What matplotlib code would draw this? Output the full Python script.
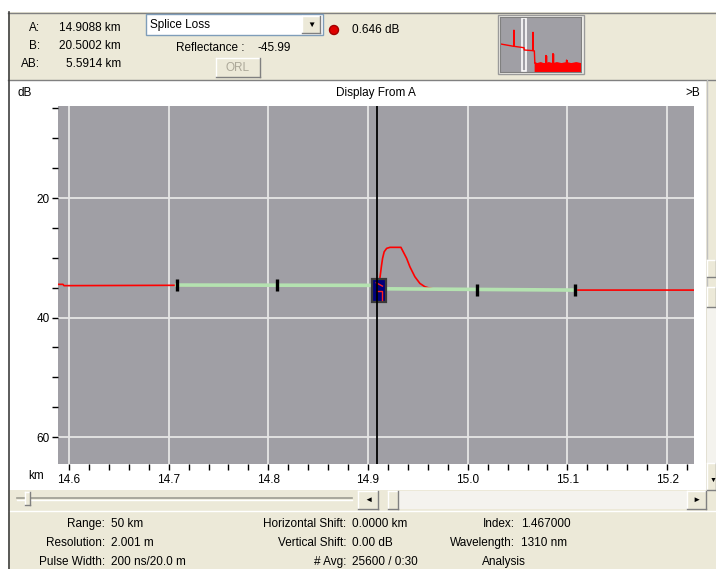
import matplotlib
matplotlib.use("Agg")
import matplotlib.pyplot as plt
from matplotlib.patches import Rectangle, Circle
from matplotlib.ticker import MultipleLocator, FixedLocator

plt.rcParams['font.family'] = ['Liberation Sans', 'DejaVu Sans']

# ---- trace data (km, dB) ----
trace_km = [14.589, 14.594, 14.595, 14.708, 14.905, 14.9119, 14.9136, 14.9146,
            14.9162, 14.9187, 14.9220, 14.9330, 14.9353, 14.9387, 14.9420,
            14.9470, 14.9520, 14.9571, 14.9604, 14.965, 15.108, 15.227]
trace_db = [34.44, 34.44, 34.66, 34.60, 34.61, 33.44, 31.21, 30.09,
            28.99, 28.42, 28.25, 28.25, 28.99, 30.09, 31.50,
            33.17, 34.28, 34.85, 35.01, 35.19, 35.40, 35.40]

# least-squares fit sections either side of the event
lsa1_km = [14.708, 14.905]
lsa1_db = [34.56, 34.61]
lsa2_km = [14.912, 15.108]
lsa2_db = [35.18, 35.40]
marker_km = [14.708, 14.809, 15.009, 15.108]
marker_db = [34.56, 34.58, 35.33, 35.40]

cursor_a = 14.9088
event_km = [14.904, 14.918]
event_db = [33.6, 37.4]

x_major = [14.6, 14.7, 14.8, 14.9, 15.0, 15.1, 15.2]
y_major = [20, 40, 60]

# overview trace in the thumbnail (km, dB)
thumb_km = [0.0, 0.0, 0.6, 8.5, 8.6, 8.7, 14.8, 15.0, 20.3, 20.4, 20.5, 21.2, 21.5]
thumb_db = [17, 29, 29.5, 32, 14.4, 32, 33.5, 36, 36.7, 16.7, 36.7, 37, 50]
noise_km = [21.5, 23, 25, 27, 28.3, 28.4, 28.5, 30, 32.6, 32.7, 32.8,
            35, 38, 41, 41.1, 41.2, 44, 47, 50]
noise_db = [50, 51, 50, 51, 51, 42, 51, 50, 51, 40, 51,
            50, 51, 50, 47, 50, 51, 50, 51]

# ---- panel texts ----
cursor_names = ["A:", "B:", "AB:"]
cursor_vals = ["14.9088 km", "20.5002 km", "5.5914 km"]
bottom_rows = [
    [("Range:", "50 km"), ("Horizontal Shift:", "0.0000 km"), ("Index:", "1.467000")],
    [("Resolution:", "2.001 m"), ("Vertical Shift:", "0.00 dB"), ("Wavelength:", "1310 nm")],
    [("Pulse Width:", "200 ns/20.0 m"), ("# Avg:", "25600 / 0:30"), ("", "")],
]

BEIGE = '#ECE9D8'
PLOTBG = '#A09FA5'
FS = 8.5

fig = plt.figure(figsize=(7.16, 5.69), dpi=100)
fig.patch.set_facecolor('white')

# pixel-space layer for the window chrome
ui = fig.add_axes([0, 0, 1, 1])
ui.set_xlim(0, 716)
ui.set_ylim(569, 0)
ui.axis('off')


def box(x0, y0, x1, y1, fc=BEIGE, ec='none', lw=1, z=1):
    ui.add_patch(Rectangle((x0, y0), x1 - x0, y1 - y0, fc=fc, ec=ec, lw=lw, zorder=z))


def button(x0, y0, x1, y1, z=3):
    box(x0, y0, x1, y1, z=z)
    ui.plot([x0, x1], [y0, y0], color='white', lw=1, zorder=z + 1)
    ui.plot([x0, x0], [y0, y1], color='white', lw=1, zorder=z + 1)
    ui.plot([x0, x1], [y1, y1], color='#808080', lw=1, zorder=z + 1)
    ui.plot([x1, x1], [y0, y1], color='#808080', lw=1, zorder=z + 1)


# top info panel
box(8, 12, 716, 80)
ui.plot([8, 716], [12.5, 12.5], color='#808080', lw=1, zorder=2)
ui.plot([8, 716], [79.5, 79.5], color='#808080', lw=1, zorder=2)
for i, (n, v) in enumerate(zip(cursor_names, cursor_vals)):
    y = 28 + i * 18
    ui.text(40, y, n, ha='right', va='center', fontsize=FS)
    ui.text(121, y, v, ha='right', va='center', fontsize=FS)

box(146, 14, 323, 35, fc='white', ec='#7F9DB9', z=2)
ui.text(150, 25, "Splice Loss", ha='left', va='center', fontsize=FS)
button(302, 16, 320, 33)
ui.text(311, 25, "▼", ha='center', va='center', fontsize=6, zorder=6)
ui.text(245, 48, "Reflectance :", ha='right', va='center', fontsize=FS)
ui.text(257, 48, "-45.99", ha='left', va='center', fontsize=FS)
button(216, 58, 260, 77)
ui.text(238, 67.5, "ORL", ha='center', va='center', fontsize=FS, color='#ACA899', zorder=6)
ui.add_patch(Circle((334, 30), 4.5, fc='#E00000', ec='#A00000', zorder=3))
ui.text(352, 30, "0.646 dB", ha='left', va='center', fontsize=FS)

# thumbnail frame
box(498, 15, 584, 74, fc='#F4F3EE', ec='#9A9A9A', z=2)

# white chart panel and left border
box(8, 80, 706, 490, fc='white')
ui.plot([8.5, 8.5], [12, 569], color='#404040', lw=1.2, zorder=5)
ui.text(17, 93, "dB", ha='left', va='center', fontsize=FS)
ui.text(376, 93, "Display From A", ha='center', va='center', fontsize=FS)
ui.text(700, 93, ">B", ha='right', va='center', fontsize=FS)
ui.text(28, 476, "km", ha='left', va='center', fontsize=FS)

# right scrollbar
box(706, 80, 716, 490)
ui.plot([706.5, 706.5], [80, 490], color='#C0C0C0', lw=1, zorder=2)
button(707, 260, 716, 277)
button(707, 287, 716, 307)
box(707, 307, 716, 463, fc='#F4F3EE', z=2)
button(707, 463, 716, 490)
ui.text(713, 480, "▼", ha='center', va='center', fontsize=5, zorder=6)

# horizontal scroll row
box(8, 490, 716, 510)
ui.plot([17, 352], [497.5, 497.5], color='#9D9D92', lw=1.2, zorder=3)
ui.plot([17, 352], [499.5, 499.5], color='white', lw=1, zorder=3)
button(25, 492, 30, 505)
button(358, 491, 378, 509)
ui.text(368, 500, "◄", ha='center', va='center', fontsize=6, zorder=6)
button(388, 491, 398, 509)
box(398, 491, 687, 509, fc='#F4F3EE', z=2)
button(687, 491, 706, 509)
ui.text(696.5, 500, "►", ha='center', va='center', fontsize=6, zorder=6)

# bottom status panel
box(8, 510, 716, 569)
ui.plot([8, 716], [510.5, 510.5], color='white', lw=1, zorder=2)
col_right = [105, 346, 515]
for r, row in enumerate(bottom_rows):
    y = 524 + r * 19
    for c, (lab, val) in enumerate(row):
        if lab:
            ui.text(col_right[c], y, lab, ha='right', va='center', fontsize=FS)
            ui.text(col_right[c] + 6, y, val, ha='left', va='center', fontsize=FS)
ui.text(504, 562, "Analysis", ha='center', va='center', fontsize=FS)

# ---- main trace plot ----
ax = fig.add_axes([58 / 716, 1 - 464 / 569, 636 / 716, 358 / 569])
ax.set_facecolor(PLOTBG)
ax.set_xlim(14.589, 15.227)
ax.set_ylim(64.5, 4.6)
for s in ax.spines.values():
    s.set_visible(False)

ax.xaxis.set_major_locator(FixedLocator(x_major))
ax.xaxis.set_minor_locator(MultipleLocator(0.02))
ax.set_xticklabels([f"{v:.1f}" for v in x_major])
ax.yaxis.set_major_locator(FixedLocator(y_major))
ax.yaxis.set_minor_locator(MultipleLocator(5))
ax.tick_params(which='both', direction='out', length=4, width=1, color='black',
               labelsize=FS, pad=2)
ax.tick_params(axis='x', pad=3)
ax.grid(True, which='major', color='#E6E6E6', lw=1.3)
ax.set_axisbelow(True)

ax.plot(trace_km, trace_db, color='#FF0000', lw=1.2, zorder=3)
ax.plot(lsa1_km, lsa1_db, color='#B4E2B0', lw=2.6, zorder=4)
ax.plot(lsa2_km, lsa2_db, color='#B4E2B0', lw=2.6, zorder=4)
ax.plot(marker_km, marker_db, ls='none', marker='|', ms=8, mew=2.4,
        color='black', zorder=5)

ax.add_patch(Rectangle((event_km[0], event_db[0]), event_km[1] - event_km[0],
                       event_db[1] - event_db[0], fc='#00007A', ec='#3A3A3A',
                       lw=1.6, zorder=6))
ex0, ex1 = event_km
ey0, ey1 = event_db
ax.plot([ex0 + 0.3 * (ex1 - ex0), ex0 + 0.75 * (ex1 - ex0)],
        [ey0 + 0.15 * (ey1 - ey0), ey0 + 0.3 * (ey1 - ey0)],
        color='#FF2020', lw=1, zorder=7)
ax.plot([ex0 + 0.35 * (ex1 - ex0), ex0 + 0.7 * (ex1 - ex0), ex0 + 0.7 * (ex1 - ex0)],
        [ey0 + 0.5 * (ey1 - ey0), ey0 + 0.5 * (ey1 - ey0), ey0 + 0.9 * (ey1 - ey0)],
        color='#FF2020', lw=1, zorder=7)
ax.axvline(cursor_a, color='black', lw=1.3, zorder=8)

# ---- overview thumbnail ----
th = fig.add_axes([500 / 716, 1 - 72 / 569, 81 / 716, 55 / 569])
th.set_facecolor(PLOTBG)
th.set_xlim(0, 50)
th.set_ylim(60, 0)
th.set_xticks([])
th.set_yticks([])
for s in th.spines.values():
    s.set_color('#808080')
th.plot(thumb_km, thumb_db, color='#FF0000', lw=1)
th.fill_between(noise_km, noise_db, 60, color='#FF0000', lw=1)
th.plot(noise_km, noise_db, color='#FF0000', lw=1)
vlo, vhi = ax.get_xlim()
vmid = (vlo + vhi) / 2
th.add_patch(Rectangle((vmid - 1.3, 1.5), 2.6, 57, fc='none', ec='white', lw=1.2))

fig.savefig('out.png', dpi=100)
